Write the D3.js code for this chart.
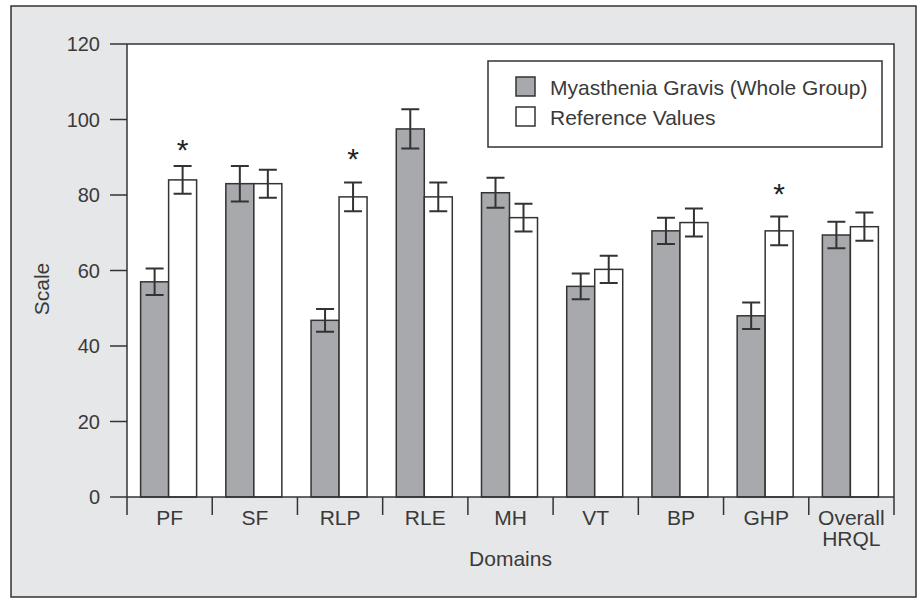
<!DOCTYPE html>
<html lang="en">
<head>
<meta charset="UTF-8">
<script src="https://d3js.org/d3.v7.min.js"></script>
<style>
    body { margin: 0; background: #ffffff; }
    text { font-family: "Liberation Sans", Arial, sans-serif; fill: #3a3a3a; }
</style>
</head>
<body>
<svg id="chart" width="919" height="598"></svg>
<script>
    // values
    const categories = ["PF", "SF", "RLP", "RLE", "MH", "VT", "BP", "GHP", "Overall HRQL"];
    const seriesNames = ["Myasthenia Gravis (Whole Group)", "Reference Values"];
    const mgMean = [57.0, 83.0, 46.8, 97.5, 80.6, 55.8, 70.5, 48.0, 69.4];
    const mgErr = [3.5, 4.7, 3.0, 5.2, 4.0, 3.4, 3.5, 3.5, 3.5];
    const refMean = [84.0, 83.0, 79.5, 79.5, 74.0, 60.3, 72.7, 70.5, 71.6];
    const refErr = [3.7, 3.7, 3.8, 3.8, 3.7, 3.6, 3.7, 3.8, 3.75];
    const starCats = ["PF", "RLP", "GHP"];
    const starLevel = [93.7, 91.5, 82.2];
    const yTicks = [0, 20, 40, 60, 80, 100, 120];

    const svg = d3.select("#chart");
    const ink = "#333333";
    const grey = "#a7a9ac";

    // outer panel
    svg.append("rect")
        .attr("x", 11).attr("y", 6)
        .attr("width", 905).attr("height", 591)
        .attr("fill", "#e6e7e8")
        .attr("stroke", ink).attr("stroke-width", 1.5);

    const pLeft = 127, pRight = 894, pTop = 44, pBottom = 497;

    const x = d3.scaleBand().domain(categories).range([pLeft, pRight]).padding(0);
    const bw = x.bandwidth();
    const pairW = 56;
    const x1 = d3.scaleBand().domain(seriesNames)
        .range([bw / 2 - pairW / 2 - 1, bw / 2 + pairW / 2 - 1]);
    const y = d3.scaleLinear().domain([0, 120]).range([pBottom, pTop]);

    // plot area
    svg.append("rect")
        .attr("x", pLeft).attr("y", pTop)
        .attr("width", pRight - pLeft).attr("height", pBottom - pTop)
        .attr("fill", "#ffffff");
    svg.append("path")
        .attr("d", `M${pLeft},${pTop}H${pRight}V${pBottom}`)
        .attr("fill", "none").attr("stroke", ink).attr("stroke-width", 1.5);

    const rows = categories.map((c, i) => ({
        cat: c,
        vals: [
            { s: seriesNames[0], v: mgMean[i], e: mgErr[i], fill: grey },
            { s: seriesNames[1], v: refMean[i], e: refErr[i], fill: "#ffffff" }
        ]
    }));

    const groups = svg.append("g").selectAll("g")
        .data(rows).join("g")
        .attr("transform", d => `translate(${x(d.cat)},0)`);

    groups.selectAll("rect")
        .data(d => d.vals).join("rect")
        .attr("x", d => x1(d.s))
        .attr("y", d => y(d.v))
        .attr("width", x1.bandwidth())
        .attr("height", d => y(0) - y(d.v))
        .attr("fill", d => d.fill)
        .attr("stroke", ink).attr("stroke-width", 1.5);

    const capW = 18;
    groups.selectAll("path.err")
        .data(d => d.vals).join("path")
        .attr("class", "err")
        .attr("d", d => {
            const cx = x1(d.s) + x1.bandwidth() / 2;
            const y0 = y(d.v - d.e), y1 = y(d.v + d.e);
            return `M${cx - capW / 2},${y1}H${cx + capW / 2}M${cx},${y1}V${y0}M${cx - capW / 2},${y0}H${cx + capW / 2}`;
        })
        .attr("fill", "none").attr("stroke", ink).attr("stroke-width", 2);

    // significance stars
    const starSize = 30;
    svg.append("g").selectAll("text")
        .data(starCats).join("text")
        .attr("x", d => x(d) + x1(seriesNames[1]) + x1.bandwidth() / 2)
        .attr("y", (d, i) => y(starLevel[i]) + starSize * 0.57)
        .attr("text-anchor", "middle")
        .style("font-size", starSize + "px")
        .style("fill", "#222")
        .text("*");

    // y axis
    const yAxis = svg.append("g");
    yAxis.append("line")
        .attr("x1", pLeft).attr("x2", pLeft).attr("y1", pTop).attr("y2", pBottom)
        .attr("stroke", ink).attr("stroke-width", 1.5);
    yAxis.selectAll("line.tick")
        .data(yTicks).join("line")
        .attr("class", "tick")
        .attr("x1", pLeft - 17).attr("x2", pLeft)
        .attr("y1", d => y(d)).attr("y2", d => y(d))
        .attr("stroke", ink).attr("stroke-width", 1.5);
    yAxis.selectAll("text")
        .data(yTicks).join("text")
        .attr("x", pLeft - 27)
        .attr("y", d => y(d))
        .attr("dy", "0.36em")
        .attr("text-anchor", "end")
        .style("font-size", "20px")
        .text(d => d);

    // x axis
    const xAxis = svg.append("g");
    xAxis.append("line")
        .attr("x1", pLeft).attr("x2", pRight).attr("y1", pBottom).attr("y2", pBottom)
        .attr("stroke", ink).attr("stroke-width", 1.5);
    xAxis.selectAll("line.tick")
        .data(categories.concat(["end"])).join("line")
        .attr("class", "tick")
        .attr("x1", d => d === "end" ? pRight : x(d))
        .attr("x2", d => d === "end" ? pRight : x(d))
        .attr("y1", pBottom).attr("y2", pBottom + 18)
        .attr("stroke", ink).attr("stroke-width", 1.5);
    xAxis.selectAll("text")
        .data(categories).join("text")
        .attr("x", d => x(d) + bw / 2)
        .attr("y", 525)
        .attr("text-anchor", "middle")
        .style("font-size", "21px")
        .each(function (d) {
            const parts = d.split(" ");
            d3.select(this).selectAll("tspan")
                .data(parts).join("tspan")
                .attr("x", x(d) + bw / 2)
                .attr("dy", (p, i) => i === 0 ? 0 : 21)
                .text(p => p);
        });

    svg.append("text")
        .attr("x", (pLeft + pRight) / 2)
        .attr("y", 566)
        .attr("text-anchor", "middle")
        .style("font-size", "21px")
        .text("Domains");

    svg.append("text")
        .attr("transform", "translate(49,289) rotate(-90)")
        .attr("text-anchor", "middle")
        .style("font-size", "21px")
        .text("Scale");

    // legend
    const legend = svg.append("g");
    legend.append("rect")
        .attr("x", 488).attr("y", 61)
        .attr("width", 394).attr("height", 86)
        .attr("fill", "#ffffff")
        .attr("stroke", ink).attr("stroke-width", 1.5);
    const legFills = [grey, "#ffffff"];
    seriesNames.forEach((s, i) => {
        legend.append("rect")
            .attr("x", 516).attr("y", 77 + i * 30)
            .attr("width", 19).attr("height", 19)
            .attr("fill", legFills[i])
            .attr("stroke", ink).attr("stroke-width", 1.5);
        legend.append("text")
            .attr("x", 550).attr("y", 95 + i * 30)
            .style("font-size", "21px")
            .text(s);
    });
</script>
</body>
</html>
